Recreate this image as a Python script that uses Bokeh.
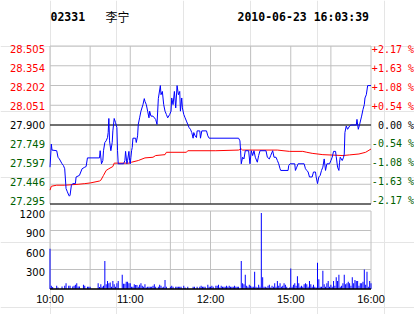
from bokeh.plotting import figure
from bokeh.models import Range1d, ColumnDataSource
from bokeh.core.properties import value
from bokeh.embed import file_html
from bokeh.resources import INLINE

# ---------------- data ----------------
stock_code = "02331"
stock_name = "李宁"
stamp = "2010-06-23 16:03:39"
prev_close = 27.900

price_ticks = [27.295, 27.44625, 27.5975, 27.74875, 27.900, 28.05125, 28.2025, 28.35375, 28.505]
price_labels = ["27.295", "27.446", "27.597", "27.749", "27.900", "28.051", "28.202", "28.354", "28.505"]
pct_labels = ["-2.17 %", "-1.63 %", "-1.08 %", "-0.54 %", "0.00 %", "+0.54 %", "+1.08 %", "+1.63 %", "+2.17 %"]

time_ticks = [0, 60, 120, 180, 240]
time_labels = ["10:00", "11:00", "12:00", "15:00", "16:00"]
time_grid = [0, 30, 60, 90, 120, 150, 180, 210, 240]
vol_ticks = [300, 600, 900, 1200]
vol_labels = ["300", "600", "900", "1200"]
vol_grid = [0, 300, 600, 900, 1200]

# price (minute index from 10:00, trading minutes)
price_min = [0, 1, 1.5, 5, 6, 7, 9, 10, 11, 12, 13, 14, 14.5, 15, 16, 17, 19, 19.5, 22, 24,
             26, 27, 28, 37, 37.5, 38.5, 39.5, 40, 41, 42, 43, 43.5, 44, 44.5, 45.5, 46.5, 47, 48, 49, 50,
             50.5, 51, 55, 56, 56.5, 57.5, 58, 59, 59.5, 60, 60.5, 61, 61.5, 62, 64, 64.5, 65.5, 66, 67, 68,
             69.5, 70.5, 71, 72, 73, 74, 74.5, 75.5, 77, 79, 80, 81, 82.5, 83, 84, 85, 86, 87, 88, 89.5,
             90.5, 91, 92, 93, 94, 95, 96, 97, 97.5, 98.5, 99, 100, 101, 102, 103, 104, 105, 106, 107, 107.5,
             108.5, 109.5, 110, 112, 112.5, 113.5, 117, 118, 119, 141, 142, 142.5, 143, 144, 145, 146, 148.5, 149.5,
             150.5, 151.5, 152.5, 153.5, 155, 156, 157, 161.5, 162.5, 164, 165, 166.5, 167.5, 169, 170, 171,
             172, 172.5, 178, 178.5, 179.5, 183, 183.5, 184.5, 185.5, 190, 191, 192, 193, 194, 196, 197,
             198.5, 199, 200, 201, 202, 203, 204, 205, 206, 207, 209, 210, 211, 212, 213.5, 214, 215, 216,
             216.5, 217, 218.5, 219.5, 220, 220.5, 221.5, 222.5, 224, 225, 229, 229.5, 230.5, 231.5, 233, 234,
             235, 235.5, 236.5, 237.5, 240]
price_val = [27.577, 27.754, 27.708, 27.703, 27.653, 27.640, 27.603, 27.590, 27.565, 27.413, 27.388, 27.363, 27.355, 27.363, 27.439, 27.451, 27.451, 27.502, 27.514, 27.565,
             27.577, 27.582, 27.648, 27.648, 27.703, 27.603, 27.628, 27.703, 27.766, 27.779, 27.804, 27.842, 27.950, 27.779, 27.703, 27.766, 27.855, 27.950, 27.918, 27.880,
             27.703, 27.603, 27.603, 27.628, 27.698, 27.603, 27.628, 27.698, 27.628, 27.603, 27.653, 27.703, 27.729, 27.799, 27.799, 27.766, 27.817, 27.905, 27.955, 28.006,
             28.056, 28.102, 28.081, 28.056, 28.006, 27.955, 28.006, 27.968, 27.968, 27.943, 27.905, 28.102, 28.202, 28.132, 28.157, 28.056, 28.006, 27.981, 27.955, 27.981,
             28.006, 28.107, 28.056, 28.157, 28.031, 28.202, 28.132, 28.157, 28.006, 28.107, 28.031, 27.981, 27.955, 27.930, 27.905, 27.880, 27.867, 27.842, 27.799, 27.842,
             27.817, 27.804, 27.855, 27.855, 27.799, 27.855, 27.855, 27.817, 27.799, 27.799, 27.779, 27.703, 27.603, 27.653, 27.640, 27.703, 27.703, 27.603,
             27.703, 27.666, 27.703, 27.653, 27.615, 27.666, 27.703, 27.703, 27.653, 27.640, 27.666, 27.703, 27.653, 27.653, 27.628, 27.603,
             27.565, 27.552, 27.552, 27.590, 27.603, 27.603, 27.552, 27.577, 27.603, 27.603, 27.565, 27.552, 27.540, 27.502, 27.502, 27.540,
             27.540, 27.502, 27.451, 27.502, 27.514, 27.552, 27.577, 27.640, 27.552, 27.603, 27.603, 27.628, 27.653, 27.698, 27.698, 27.658, 27.577, 27.552,
             27.615, 27.653, 27.628, 27.653, 27.678, 27.842, 27.892, 27.867, 27.892, 27.900, 27.900, 27.943, 27.867, 27.905, 27.968, 28.018,
             28.056, 28.107, 28.132, 28.202, 28.202]

# average price
avg_min = [0, 1, 5, 11, 21, 26, 30, 37, 38, 40, 42, 44, 47, 48, 59, 61, 66, 71, 77, 79,
           86, 87, 102, 103, 124, 141, 143, 144, 170, 179, 189, 192, 196, 204, 219, 224, 231, 236, 240]
avg_val = [27.401, 27.431, 27.439, 27.439, 27.446, 27.451, 27.456, 27.471, 27.477, 27.514, 27.552, 27.565, 27.582, 27.608, 27.608, 27.615, 27.628, 27.648, 27.653, 27.666,
           27.673, 27.691, 27.691, 27.703, 27.703, 27.708, 27.716, 27.708, 27.708, 27.698, 27.698, 27.691, 27.683, 27.673, 27.666, 27.671, 27.678, 27.691, 27.716]

# volume per minute (0..240)
volume = [620, 50, 30, 0, 0, 50, 25, 0, 0, 40,
          0, 50, 90, 0, 50, 50, 0, 40, 50, 65,
          90, 40, 40, 0, 0, 65, 50, 0, 35, 35,
          35, 0, 0, 0, 0, 0, 90, 30, 75, 35,
          50, 430, 75, 125, 90, 100, 35, 125, 75, 35,
          90, 125, 0, 0, 220, 80, 80, 110, 110, 90,
          90, 35, 35, 75, 60, 60, 35, 65, 90, 50,
          35, 75, 25, 35, 35, 35, 35, 50, 75, 35,
          0, 35, 65, 50, 25, 35, 140, 35, 0, 0,
          35, 50, 35, 0, 35, 35, 35, 35, 35, 0,
          50, 25, 0, 35, 0, 0, 0, 35, 35, 0,
          35, 0, 35, 50, 35, 35, 35, 0, 65, 35,
          35, 50, 35, 0, 50, 50, 65, 25, 50, 35,
          35, 35, 50, 35, 50, 35, 35, 35, 50, 35,
          35, 35, 0, 430, 90, 75, 220, 50, 35, 65,
          50, 35, 35, 265, 35, 25, 65, 35, 1170, 180,
          35, 35, 25, 50, 65, 25, 50, 35, 90, 35,
          125, 50, 90, 35, 50, 90, 65, 35, 0, 25,
          315, 35, 65, 90, 50, 195, 90, 35, 50, 35,
          75, 90, 75, 35, 125, 75, 35, 65, 35, 25,
          405, 150, 35, 35, 280, 75, 35, 90, 125, 35,
          65, 35, 125, 50, 180, 125, 220, 35, 50, 90,
          220, 75, 90, 110, 90, 50, 180, 90, 140, 125,
          125, 50, 90, 90, 110, 300, 65, 265, 35, 125, 90]
vol_minutes = list(range(len(volume)))

# ---------------- styling / layout ----------------
GRID = "#C0C0C0"
RED = "#FF0000"
GREEN = "#006000"
BLUE = "#0000FF"
LFONT = "DejaVu Sans"
MONO = "DejaVu Sans Mono"
XFONT = "Liberation Sans"

W, H = 414, 314
PX_L, PX_R = 49.5, 370.5       # pixel x of first / last minute
PY_T, PY_B = 45.5, 203.5       # pixel y of top / bottom price tick
VY_T, VY_B = 210.5, 288.5      # pixel y of top / bottom volume grid line
t0, t1 = time_grid[0], time_grid[-1]
pmin, pmax = price_ticks[0], price_ticks[-1]
vmin, vmax = vol_grid[0], vol_grid[-1]
ppm = (PX_R - PX_L) / (t1 - t0)
ppp = (PY_B - PY_T) / (pmax - pmin)
ppv = (VY_B - VY_T) / (vmax - vmin)


def mx(px):
    return t0 + (px - PX_L) / ppm


def py(px):
    return pmax - (px - PY_T) / ppp


def vy(px):
    return vmax - (px - VY_T) / ppv


def tone(v):
    if abs(v - prev_close) < 1e-9:
        return "#000000"
    return RED if v > prev_close else GREEN


colors = [tone(v) for v in price_ticks]
label_y = [prev_close + (v - prev_close) * 0.96 for v in price_ticks]

# one canvas-wide frame: price scale (default) and volume scale (extra range)
p = figure(width=W, height=H, x_range=Range1d(mx(0), mx(W)), y_range=Range1d(py(H), py(0)),
           output_backend="svg", toolbar_location=None, x_axis_location=None, y_axis_location=None,
           min_border=0)
p.extra_y_ranges = {"vol": Range1d(vy(H), vy(0))}
p.outline_line_color = None
p.background_fill_color = "white"
p.border_fill_color = "white"

n_t, n_p, n_v = len(time_grid), len(price_ticks), len(vol_grid)

# ---- price panel ----
p.segment(x0=time_grid, y0=[pmin] * n_t, x1=time_grid, y1=[pmax] * n_t, line_color=GRID, line_width=1)
p.segment(x0=[t0] * n_p, y0=price_ticks, x1=[t1] * n_p, y1=price_ticks, line_color=GRID, line_width=1)
p.segment(x0=[t0, t0], y0=[prev_close, pmin], x1=[t1, t1], y1=[prev_close, pmin],
          line_color="black", line_width=1)

p.line(avg_min, avg_val, line_color=RED, line_width=1)
p.line(price_min, price_val, line_color=BLUE, line_width=1)

left_src = ColumnDataSource(dict(x=[mx(44.5)] * n_p, y=label_y, text=price_labels, c=colors))
p.text(x="x", y="y", text="text", source=left_src, text_color="c", text_align="right",
       text_baseline="middle", text_font_size="10px", text_font=value(LFONT))
right_src = ColumnDataSource(dict(x=[mx(413.5)] * n_p, y=label_y, text=pct_labels, c=colors))
p.text(x="x", y="y", text="text", source=right_src, text_color="c", text_align="right",
       text_baseline="middle", text_font_size="10px", text_font=value(MONO))

head_y = py(16)
p.text(x=[mx(50)], y=[head_y], text=[stock_code], text_font=value(MONO), text_font_style="bold",
       text_font_size="11.5px", text_baseline="middle", text_color="black")
p.text(x=[mx(105)], y=[head_y], text=[stock_name], text_font=value("Noto Sans CJK SC"),
       text_font_size="12px", text_baseline="middle", text_color="black")
p.text(x=[mx(237)], y=[head_y], text=[stamp], text_font=value(MONO), text_font_style="bold",
       text_font_size="11.5px", text_baseline="middle", text_color="black")

# ---- volume panel ----
p.segment(x0=time_grid, y0=[vmin] * n_t, x1=time_grid, y1=[vmax] * n_t, line_color=GRID,
          line_width=1, y_range_name="vol")
p.segment(x0=[t0] * n_v, y0=vol_grid, x1=[t1] * n_v, y1=vol_grid, line_color=GRID,
          line_width=1, y_range_name="vol")
p.vbar(x=vol_minutes, top=volume, bottom=vmin, width=0.75, fill_color=BLUE, line_color=None,
       y_range_name="vol")
p.segment(x0=[t0], y0=[vmin], x1=[t1], y1=[vmin], line_color="black", line_width=1.5,
          y_range_name="vol")

vsrc = ColumnDataSource(dict(x=[mx(44.5)] * len(vol_ticks), y=vol_ticks, text=vol_labels))
p.text(x="x", y="y", text="text", source=vsrc, text_color="black", text_align="right",
       text_baseline="middle", y_offset=2.5, text_font_size="10px", text_font=value(LFONT),
       y_range_name="vol")
tsrc = ColumnDataSource(dict(x=time_ticks, y=[vy(298.5)] * len(time_ticks), text=time_labels))
p.text(x="x", y="y", text="text", source=tsrc, text_color="black", text_align="center",
       text_baseline="middle", text_font_size="11px", text_font=value(XFONT), y_range_name="vol")

open("out.html", "w").write(file_html(p, INLINE))
